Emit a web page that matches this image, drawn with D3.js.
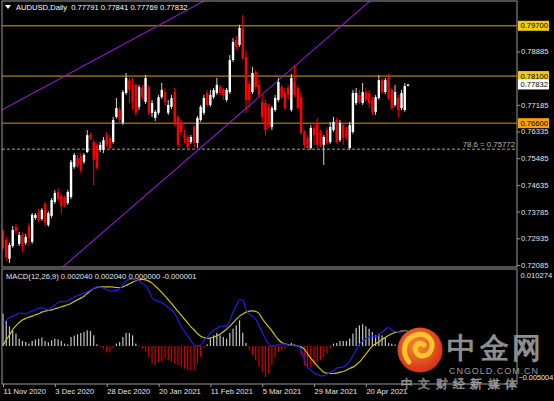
<!DOCTYPE html>
<html><head><meta charset="utf-8">
<script src="https://cdn.jsdelivr.net/npm/d3@7"></script>
<style>html,body{margin:0;padding:0;background:#000;}svg{display:block;}text{font-family:"Liberation Sans",Arial,sans-serif;}</style>
</head><body><svg id="c" width="554" height="401"></svg>
<script>
// ---------------- DATA ----------------
const symbolTitle = "AUDUSD,Daily  0.77791 0.77841 0.77769 0.77832";
const macdTitle = "MACD(12,26,9) 0.002040 0.002040 0.000000 -0.000001";
const dateTicks = ["11 Nov 2020","3 Dec 2020","28 Dec 2020","20 Jan 2021","11 Feb 2021","5 Mar 2021","29 Mar 2021","20 Apr 2021"];
const priceTicks = [0.78885,0.77185,0.76335,0.75485,0.74635,0.73785,0.72935,0.72085];
const macdTicks = [0.010274,-0.005004];
const levels = [0.797,0.781,0.766];
const levelKinds = ["gold","gold","orange"];
const fibLevel = 0.75772, fibLabel = "78.6 = 0.75772";
const lastPrice = 0.77832;
// trend lines: [barIndex, price] anchor pairs
const trendLines = [[[0,0.7704],[60,0.8038]],[[20,0.7216],[110,0.8020]]];

const open = [
0.7317,0.7288,0.7228,0.7269,0.7330,0.7276,0.7304,0.7279,0.7333,0.7282,
0.7358,0.7377,0.7355,0.7403,0.7336,0.7365,0.7409,0.7441,0.7428,0.7422,
0.7406,0.7425,0.7521,0.7549,0.7556,0.7537,0.7568,0.7622,0.7600,0.7591,
0.7575,0.7575,0.7622,0.7613,0.7600,0.7680,0.7702,0.7661,0.7756,0.7797,
0.7782,0.7782,0.7712,0.7772,0.7728,0.7775,0.7693,0.7677,0.7693,0.7743,
0.7759,0.7693,0.7712,0.7759,0.7680,0.7664,0.7622,0.7616,0.7600,0.7648,
0.7597,0.7670,0.7693,0.7756,0.7718,0.7743,0.7756,0.7775,0.7769,0.7734,
0.7759,0.7861,0.7925,0.7909,0.7963,0.7871,0.7785,0.7759,0.7823,0.7782,
0.7728,0.7724,0.7712,0.7648,0.7702,0.7734,0.7775,0.7759,0.7772,0.7702,
0.7791,0.7772,0.7743,0.7632,0.7613,0.7581,0.7645,0.7664,0.7632,0.7591,
0.7638,0.7600,0.7638,0.7670,0.7606,0.7654,0.7638,0.7581,0.7632,0.7724,
0.7750,0.7724,0.7759,0.7756,0.7734,0.7696,0.7740,0.7797,0.7759,0.7804,
0.7766,0.7718,0.7740,0.7708,0.7702,0.77791];
const high = [
0.7323,0.7298,0.7279,0.7333,0.7339,0.7314,0.7311,0.7307,0.7342,0.7374,
0.7374,0.7387,0.7390,0.7409,0.7380,0.7422,0.7447,0.7454,0.7435,0.7428,
0.7447,0.7543,0.7565,0.7559,0.7565,0.7565,0.7638,0.7629,0.7606,0.7597,
0.7600,0.7616,0.7632,0.7622,0.7680,0.7740,0.7712,0.7766,0.7820,0.7804,
0.7804,0.7788,0.7782,0.7782,0.7813,0.7782,0.7734,0.7702,0.7750,0.7788,
0.7772,0.7734,0.7750,0.7772,0.7686,0.7670,0.7638,0.7622,0.7622,0.7654,
0.7683,0.7718,0.7750,0.7766,0.7766,0.7772,0.7804,0.7782,0.7772,0.7772,
0.7877,0.7931,0.7937,0.7973,0.8004,0.7893,0.7794,0.7839,0.7829,0.7797,
0.7750,0.7734,0.7721,0.7715,0.7750,0.7804,0.7782,0.7772,0.7782,0.7817,
0.7845,0.7782,0.7759,0.7638,0.7622,0.7654,0.7661,0.7677,0.7638,0.7622,
0.7648,0.7664,0.7680,0.7677,0.7670,0.7664,0.7648,0.7664,0.7766,0.7772,
0.7766,0.7788,0.7772,0.7766,0.7743,0.7750,0.7813,0.7804,0.7804,0.7817,
0.7772,0.7782,0.7750,0.7766,0.7788,0.77841];
const low = [
0.7253,0.7222,0.7215,0.7263,0.7307,0.7269,0.7250,0.7272,0.7269,0.7276,
0.7352,0.7345,0.7349,0.7333,0.7330,0.7358,0.7403,0.7412,0.7371,0.7393,
0.7400,0.7418,0.7515,0.7518,0.7502,0.7530,0.7565,0.7606,0.7463,0.7511,
0.7568,0.7565,0.7584,0.7575,0.7594,0.7674,0.7658,0.7654,0.7750,0.7724,
0.7702,0.7683,0.7702,0.7734,0.7721,0.7686,0.7680,0.7667,0.7686,0.7737,
0.7718,0.7686,0.7705,0.7651,0.7584,0.7622,0.7597,0.7575,0.7594,0.7581,
0.7581,0.7664,0.7686,0.7712,0.7712,0.7737,0.7750,0.7750,0.7734,0.7728,
0.7753,0.7855,0.7893,0.7903,0.7861,0.7693,0.7708,0.7753,0.7766,0.7743,
0.7664,0.7622,0.7645,0.7638,0.7696,0.7728,0.7737,0.7702,0.7734,0.7696,
0.7743,0.7702,0.7622,0.7581,0.7572,0.7575,0.7591,0.7581,0.7584,0.7527,
0.7591,0.7594,0.7632,0.7594,0.7600,0.7591,0.7606,0.7575,0.7626,0.7718,
0.7721,0.7718,0.7728,0.7708,0.7686,0.7686,0.7734,0.7753,0.7753,0.7734,
0.7702,0.7712,0.7677,0.7702,0.7696,0.77769];
const close = [
0.7263,0.7234,0.7272,0.7320,0.7317,0.7304,0.7269,0.7298,0.7295,0.7368,
0.7368,0.7352,0.7384,0.7342,0.7374,0.7415,0.7438,0.7418,0.7396,0.7400,
0.7441,0.7537,0.7559,0.7524,0.7511,0.7559,0.7622,0.7613,0.7543,0.7518,
0.7591,0.7606,0.7591,0.7581,0.7670,0.7708,0.7670,0.7759,0.7804,0.7766,
0.7728,0.7693,0.7775,0.7743,0.7804,0.7693,0.7724,0.7696,0.7743,0.7766,
0.7728,0.7718,0.7740,0.7661,0.7591,0.7632,0.7613,0.7584,0.7616,0.7597,
0.7677,0.7712,0.7740,0.7718,0.7750,0.7766,0.7782,0.7756,0.7750,0.7766,
0.7861,0.7918,0.7903,0.7963,0.7868,0.7734,0.7734,0.7820,0.7775,0.7750,
0.7680,0.7638,0.7654,0.7708,0.7740,0.7791,0.7743,0.7708,0.7750,0.7804,
0.7750,0.7708,0.7629,0.7591,0.7581,0.7645,0.7622,0.7591,0.7591,0.7616,
0.7597,0.7648,0.7664,0.7600,0.7661,0.7613,0.7616,0.7654,0.7756,0.7756,
0.7728,0.7759,0.7734,0.7724,0.7696,0.7743,0.7797,0.7759,0.7797,0.7740,
0.7708,0.7759,0.7702,0.7756,0.7778,0.77832];

const macdLine = [
0.00318,0.00340,0.00386,0.00404,0.00422,0.00444,0.00440,0.00435,0.00453,0.00471,
0.00489,0.00512,0.00516,0.00498,0.00489,0.00521,0.00557,0.00589,0.00602,0.00598,
0.00611,0.00638,0.00661,0.00683,0.00697,0.00715,0.00733,0.00755,0.00782,0.00800,
0.00796,0.00782,0.00760,0.00746,0.00746,0.00751,0.00778,0.00828,0.00882,0.00900,
0.00904,0.00895,0.00882,0.00846,0.00814,0.00746,0.00656,0.00620,0.00602,0.00584,
0.00557,0.00521,0.00489,0.00440,0.00350,0.00264,0.00196,0.00138,0.00070,0.00016,
0.00002,0.00011,0.00074,0.00115,0.00169,0.00210,0.00237,0.00264,0.00268,0.00273,
0.00340,0.00458,0.00543,0.00625,0.00620,0.00489,0.00431,0.00399,0.00359,0.00277,
0.00187,0.00097,0.00025,0.00002,0.00002,0.00020,0.00029,0.00025,0.00016,0.00007,
0.00002,-0.00002,-0.00047,-0.00178,-0.00282,-0.00327,-0.00363,-0.00386,-0.00404,-0.00404,
-0.00381,-0.00359,-0.00331,-0.00300,-0.00291,-0.00282,-0.00255,-0.00201,-0.00129,-0.00052,
0.00020,0.00070,0.00097,0.00124,0.00133,0.00124,0.00151,0.00187,0.00223,0.00250,
0.00214,0.00196,0.00192,0.00187,0.00196,0.00204];
const signalLine = [
0.00007,0.00083,0.00147,0.00223,0.00273,0.00318,0.00350,0.00372,0.00390,0.00404,
0.00422,0.00435,0.00458,0.00471,0.00480,0.00489,0.00503,0.00516,0.00530,0.00543,
0.00557,0.00575,0.00602,0.00625,0.00647,0.00674,0.00710,0.00746,0.00778,0.00791,
0.00800,0.00800,0.00800,0.00800,0.00796,0.00791,0.00791,0.00800,0.00818,0.00841,
0.00864,0.00882,0.00895,0.00900,0.00895,0.00877,0.00850,0.00810,0.00769,0.00724,
0.00674,0.00625,0.00575,0.00521,0.00467,0.00417,0.00363,0.00313,0.00259,0.00219,
0.00169,0.00133,0.00115,0.00101,0.00106,0.00120,0.00138,0.00160,0.00192,0.00228,
0.00268,0.00313,0.00359,0.00404,0.00431,0.00458,0.00471,0.00476,0.00467,0.00440,
0.00372,0.00313,0.00259,0.00205,0.00142,0.00088,0.00047,0.00029,0.00020,0.00011,
0.00007,-0.00002,-0.00011,-0.00043,-0.00106,-0.00165,-0.00219,-0.00268,-0.00313,-0.00354,
-0.00368,-0.00372,-0.00372,-0.00368,-0.00354,-0.00345,-0.00327,-0.00304,-0.00286,-0.00255,
-0.00219,-0.00165,-0.00110,-0.00052,-0.00002,0.00029,0.00056,0.00088,0.00115,0.00142,
0.00165,0.00183,0.00192,0.00201,0.00205,0.00204];
const histogram = [
0.00437,0.00338,0.00266,0.00212,0.00167,0.00099,0.00068,0.00054,0.00032,0.00068,
0.00086,0.00099,0.00113,0.00068,0.00050,0.00077,0.00099,0.00090,0.00068,0.00032,
0.00023,0.00122,0.00140,0.00158,0.00176,0.00189,0.00212,0.00203,0.00144,0.00023,
-0.00014,-0.00041,-0.00090,-0.00081,-0.00027,0.00032,0.00054,0.00122,0.00176,0.00176,
0.00144,0.00032,0.00005,-0.00036,-0.00081,-0.00149,-0.00239,-0.00261,-0.00216,-0.00216,
-0.00171,-0.00194,-0.00216,-0.00239,-0.00261,-0.00284,-0.00306,-0.00329,-0.00329,-0.00329,
-0.00240,-0.00149,-0.00027,0.00023,0.00099,0.00144,0.00176,0.00144,0.00122,0.00099,
0.00176,0.00234,0.00279,0.00347,0.00180,0.00041,-0.00059,-0.00126,-0.00194,-0.00284,
-0.00352,-0.00419,-0.00374,-0.00261,-0.00149,-0.00081,-0.00059,-0.00036,0.00023,0.00041,
0.00023,-0.00014,-0.00126,-0.00261,-0.00306,-0.00284,-0.00261,-0.00216,-0.00194,-0.00149,
-0.00104,-0.00036,0.00032,0.00041,0.00068,0.00068,0.00068,0.00099,0.00167,0.00243,
0.00279,0.00293,0.00266,0.00234,0.00189,0.00144,0.00167,0.00144,0.00113,0.00041,
0.00032,0.00020,-0.00020,-0.00010,0.00010,0.00000];

// categories: daily trading sessions (weekdays, no Christmas / New Year bar)
const fmtDate = d3.timeFormat("%-d %b %Y");
const categories = (() => {
  const out = []; const d = new Date(2020, 10, 11);
  while (out.length < open.length) {
    const wd = d.getDay(), md = (d.getMonth() + 1) * 100 + d.getDate();
    if (wd !== 0 && wd !== 6 && md !== 1225 && md !== 101) out.push(fmtDate(d));
    d.setDate(d.getDate() + 1);
  }
  return out;
})();

// ---------------- CHART ----------------
const svg = d3.select("#c");
const AX = "#9a9a9a", TXT = "#e6e6e6", FS = "7.6px";
const P = {l: 2, r: 517, t: 1, b: 267, mt: 269, mb: 384};

svg.append("rect").attr("width", 554).attr("height", 401).attr("fill", "#000");

const x = d3.scalePoint().domain(categories).range([3, 408]);
const yP = d3.scaleLinear().domain([0.72021, 0.80490]).range([P.b, P.t]);
const yM = d3.scaleLinear().domain([-0.005004, 0.010274]).range([383, 270]);

const defs = svg.append("defs");
defs.append("clipPath").attr("id", "cm").append("rect").attr("x", P.l).attr("y", P.t).attr("width", P.r - P.l).attr("height", P.b - P.t);
defs.append("clipPath").attr("id", "cd").append("rect").attr("x", P.l).attr("y", P.mt).attr("width", P.r - P.l).attr("height", P.mb - P.mt);

const main = svg.append("g").attr("clip-path", "url(#cm)");
const levelStroke = {gold: "#d9a50c", orange: "#e0900a"};
const levelFill = {gold: "#f2cc12", orange: "#f5a20f"};

// horizontal levels
main.selectAll(".lvl").data(levels).join("line")
  .attr("x1", P.l).attr("x2", P.r).attr("y1", d => yP(d)).attr("y2", d => yP(d))
  .attr("stroke", (d, i) => levelStroke[levelKinds[i]]).attr("stroke-width", 1);

// fib dashed
main.append("line").attr("x1", P.l).attr("x2", P.r).attr("y1", yP(fibLevel)).attr("y2", yP(fibLevel))
  .attr("stroke", "#b4b4b4").attr("stroke-width", 0.9).attr("stroke-dasharray", "3,2");
main.append("text").attr("x", 515).attr("y", yP(fibLevel) - 2.5).attr("text-anchor", "end")
  .attr("fill", "#b4b4b4").attr("font-size", "7.8px").text(fibLabel);

// trend lines (extended across panel)
trendLines.forEach(tl => {
  const [a, b] = tl;
  const x1 = x(categories[a[0]]), y1 = yP(a[1]), x2 = x(categories[b[0]]), y2 = yP(b[1]);
  const m = (y2 - y1) / (x2 - x1);
  const xa = -20, xb = 560;
  main.append("line").attr("x1", xa).attr("y1", y1 + m * (xa - x1)).attr("x2", xb).attr("y2", y1 + m * (xb - x1))
    .attr("stroke", "#8a1ccc").attr("stroke-width", 1.1);
});

// candles
const bars = categories.map((c, i) => ({c, o: open[i], h: high[i], l: low[i], cl: close[i]}));
main.selectAll(".wick").data(bars).join("line")
  .attr("x1", d => x(d.c)).attr("x2", d => x(d.c)).attr("y1", d => yP(d.h)).attr("y2", d => yP(d.l))
  .attr("stroke", d => d.cl >= d.o ? "#d4d4d4" : "#ff0000").attr("stroke-width", 1);
main.selectAll(".body").data(bars).join("rect")
  .attr("x", d => x(d.c) - 1.2).attr("width", 2.4)
  .attr("y", d => yP(Math.max(d.o, d.cl)))
  .attr("height", d => Math.max(1, Math.abs(yP(d.o) - yP(d.cl))))
  .attr("fill", d => d.cl >= d.o ? "#ffffff" : "#ff0000");

// main border
svg.append("rect").attr("x", P.l).attr("y", P.t).attr("width", P.r - P.l).attr("height", P.b - P.t)
  .attr("fill", "none").attr("stroke", AX).attr("stroke-width", 1);

// title
svg.append("path").attr("d", "M5,5 L11,5 L8,9 Z").attr("fill", "#fff");
svg.append("text").attr("x", 16).attr("y", 10).attr("fill", "#fff").attr("font-size", FS)
  .attr("xml:space", "preserve").style("white-space", "pre").text(symbolTitle);

// price axis
const pAxis = d3.axisRight(yP).tickValues(priceTicks).tickFormat(d3.format(".5f")).tickSize(3).tickPadding(1);
const pg = svg.append("g").attr("transform", `translate(${P.r},0)`).call(pAxis);
pg.select(".domain").remove();
pg.selectAll("line").attr("stroke", AX);
pg.selectAll("text").attr("fill", TXT).attr("font-size", FS).attr("font-family", null);

// level labels
levels.forEach((v, i) => {
  svg.append("rect").attr("x", 518).attr("y", yP(v) - 5).attr("width", 31).attr("height", 10).attr("fill", levelFill[levelKinds[i]]);
  svg.append("text").attr("x", 520.5).attr("y", yP(v)).attr("dy", "0.34em").attr("fill", "#000").attr("font-size", FS).text(d3.format(".5f")(v));
});
svg.append("rect").attr("x", 518).attr("y", yP(lastPrice) - 5).attr("width", 31).attr("height", 10).attr("fill", "#fff");
svg.append("text").attr("x", 520.5).attr("y", yP(lastPrice)).attr("dy", "0.34em").attr("fill", "#000").attr("font-size", FS).text(d3.format(".5f")(lastPrice));

// MACD panel
const mg = svg.append("g").attr("clip-path", "url(#cd)");
mg.selectAll(".hb").data(histogram).join("rect")
  .attr("x", (d, i) => x(categories[i]) - 0.6).attr("width", 1.2)
  .attr("y", d => Math.min(yM(d), yM(0))).attr("height", d => Math.max(0.5, Math.abs(yM(d) - yM(0))))
  .attr("fill", d => d >= 0 ? "#c4c4c4" : "#d00000");
const ln = d3.line().x((d, i) => x(categories[i])).y(d => yM(d)).curve(d3.curveMonotoneX);
mg.append("path").datum(signalLine).attr("d", ln).attr("fill", "none").attr("stroke", "#c8c21e").attr("stroke-width", 1.2);
mg.append("path").datum(macdLine).attr("d", ln).attr("fill", "none").attr("stroke", "#1f1fe0").attr("stroke-width", 1.2);

svg.append("rect").attr("x", P.l).attr("y", P.mt).attr("width", P.r - P.l).attr("height", P.mb - P.mt)
  .attr("fill", "none").attr("stroke", AX).attr("stroke-width", 1);
svg.append("text").attr("x", 6).attr("y", 278.5).attr("fill", TXT).attr("font-size", FS)
  .attr("xml:space", "preserve").style("white-space", "pre").text(macdTitle);
svg.selectAll(".mt").data(macdTicks).join("text")
  .attr("x", (d, i) => i === 0 ? 520.5 : 518.5).attr("y", (d, i) => yM(d) + (i === 0 ? 5 : -5)).attr("dy", "0.34em")
  .attr("fill", TXT).attr("font-size", (d, i) => i === 0 ? FS : "7.3px").text(d => d3.format(".6f")(d));

// date axis
const dAxis = d3.axisBottom(x).tickValues(dateTicks).tickSize(3).tickPadding(2);
const dg = svg.append("g").attr("transform", `translate(0,${P.mb})`).call(dAxis);
dg.select(".domain").remove();
dg.selectAll("line").attr("stroke", AX);
dg.selectAll("text").attr("fill", TXT).attr("font-size", FS).attr("font-family", null).attr("text-anchor", "start");

// watermark
const grad = defs.append("radialGradient").attr("id", "lg").attr("cx", "45%").attr("cy", "40%").attr("r", "60%");
grad.append("stop").attr("offset", "0%").attr("stop-color", "#f7902a");
grad.append("stop").attr("offset", "100%").attr("stop-color", "#d42e1a");
const wm = svg.append("g");
wm.append("circle").attr("cx", 420).attr("cy", 350).attr("r", 22.5).attr("fill", "url(#lg)");
wm.append("path").attr("d", "M409,362 C401,352 404,338 416,335 C427,332 435,341 431,350 C428,357 419,358 416,352 C413,346 419,341 424,345")
  .attr("fill", "none").attr("stroke", "#ffc42e").attr("stroke-width", 5).attr("stroke-linecap", "round");
wm.append("text").attr("x", 447).attr("y", 358).attr("font-size", "29px").attr("font-weight", "bold")
  .attr("font-family", "'Noto Sans CJK SC'").attr("fill", "#8e8e8e").attr("textLength", 94).text("中金网");
wm.append("text").attr("x", 449).attr("y", 373.5).attr("font-size", "9px").attr("fill", "#9e9e9e")
  .attr("textLength", 89).text("CNGOLD.COM.CN");
wm.append("text").attr("x", 401).attr("y", 388).attr("font-size", "12px").attr("font-family", "'Noto Sans CJK SC'")
  .attr("fill", "#2e2e2e").attr("stroke", "#a4a4a4").attr("stroke-width", 0.55)
  .attr("textLength", 116).attr("lengthAdjust", "spacing").text("中文财经新媒体");
</script></body></html>
